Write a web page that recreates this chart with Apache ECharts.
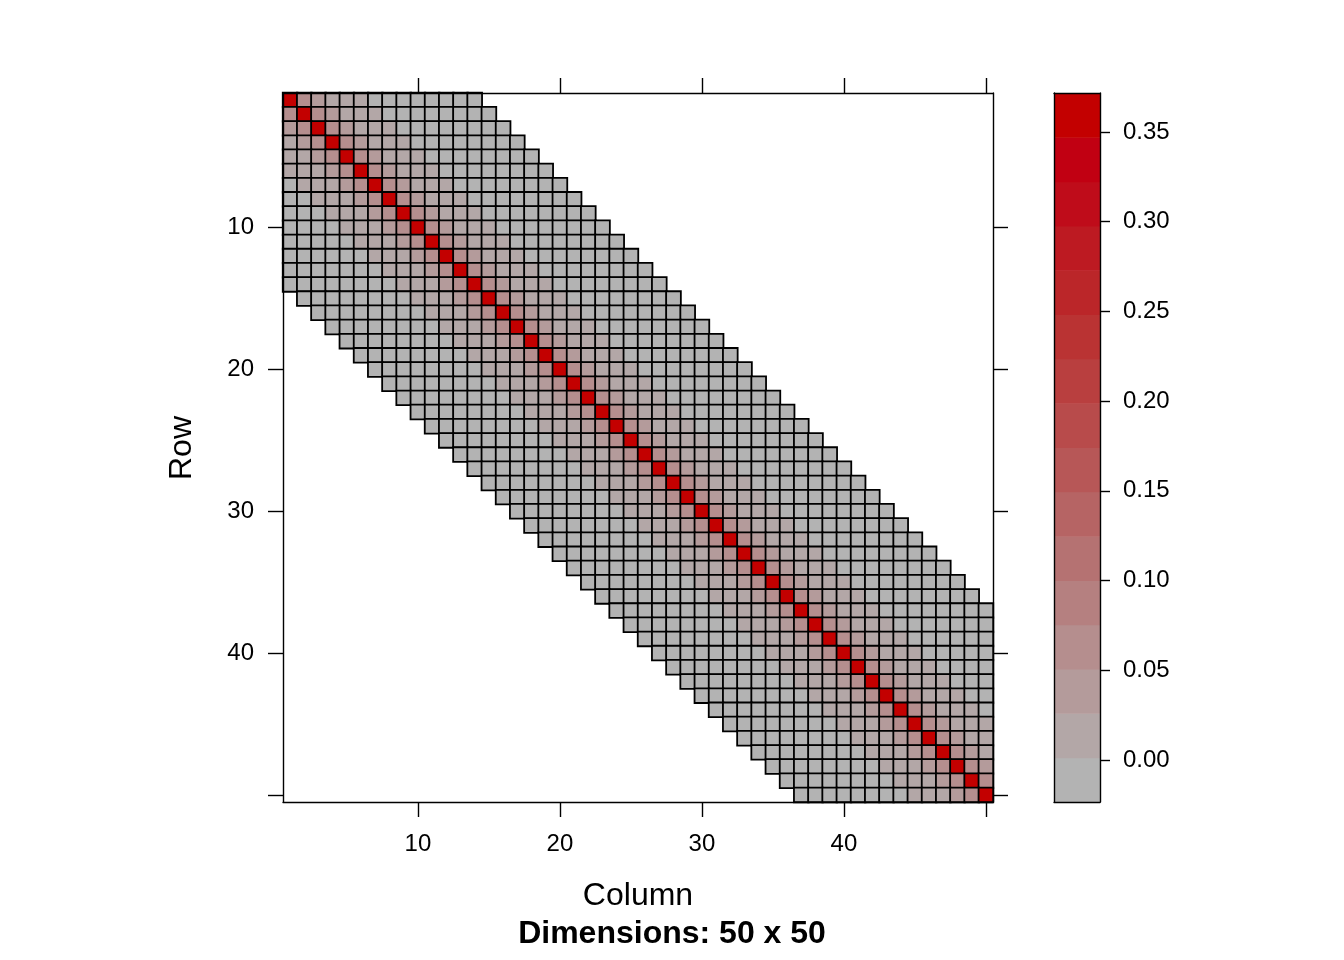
<!DOCTYPE html>
<html>
<head>
<meta charset="utf-8">
<script src="https://cdn.jsdelivr.net/npm/echarts@6/dist/echarts.min.js"></script>
<style>
html,body{margin:0;padding:0;background:#fff;}
#chart{width:1344px;height:960px;}
</style>
</head>
<body>
<div id="chart"></div>
<script>
// ---- data ----
const nRows = 50;
const nCols = 50;
const bandwidth = 13; // nonzero where |row-col| <= 13
// values by distance from diagonal (0..13)
const offsetValues = [0.37, 0.065, 0.03, 0.015, 0.008, 0.003, 0, 0, 0, 0, 0, 0, 0, 0];
const rowLabels = Array.from({length: nRows}, (_, i) => String(i + 1));
const colLabels = Array.from({length: nCols}, (_, i) => String(i + 1));
const colorBreaks = [-0.0234, 0.00129, 0.02599, 0.05068, 0.07538, 0.10007, 0.12476, 0.14946,
  0.17415, 0.19884, 0.22354, 0.24823, 0.27293, 0.29762, 0.32231, 0.34701, 0.3717];
const colorTicks = [0, 0.05, 0.10, 0.15, 0.20, 0.25, 0.30, 0.35];
const axisTickLabels = ['10', '20', '30', '40'];

// ---- styles ----
const palette = ['#b3b3b3', '#b3a7a7', '#b49b9b', '#b58e8e', '#b58080', '#b57272', '#b66464', '#b75757',
  '#b84b4b', '#b93f3f', '#ba3333', '#bb2629', '#bd1a22', '#bf0c1a', '#c10012', '#c30000'];
const FONT = 'Liberation Sans, Arial, Helvetica, sans-serif';

// build cells
const cells = [];
for (let r = 0; r < nRows; r++) {
  for (let c = 0; c < nCols; c++) {
    const d = Math.abs(r - c);
    if (d <= bandwidth) cells.push([c, r, offsetValues[d]]);
  }
}
const pieces = palette.map((col, i) => ({gte: colorBreaks[i], lt: colorBreaks[i + 1], color: col}));
const barData = palette.map((col, i) => [0, colorBreaks[i], colorBreaks[i + 1], i]);

const tickShown = (idx, val) => ((idx + 1) % 10 === 0);
const labelShown = (idx, val) => axisTickLabels.indexOf(String(val)) >= 0;

const chart = echarts.init(document.getElementById('chart'), null, {renderer: 'canvas'});
const lineStyle = {color: '#000', width: 1.4};
chart.setOption({
  animation: false,
  backgroundColor: '#fff',
  textStyle: {fontFamily: FONT},
  grid: [
    {left: 283, top: 93, width: 710, height: 709},
    {left: 1054, top: 93, width: 46, height: 709}
  ],
  xAxis: [
    {type: 'category', gridIndex: 0, position: 'bottom', data: colLabels, z: 5,
     axisLine: {show: true, onZero: false, lineStyle}, splitLine: {show: false},
     axisTick: {show: true, alignWithLabel: true, interval: tickShown, length: 15, lineStyle},
     axisLabel: {show: true, interval: labelShown, margin: 30, fontSize: 24, color: '#000', fontFamily: FONT}},
    {type: 'category', gridIndex: 0, position: 'top', data: colLabels, z: 5,
     axisLine: {show: true, onZero: false, lineStyle}, splitLine: {show: false},
     axisTick: {show: true, alignWithLabel: true, interval: tickShown, length: 15, lineStyle},
     axisLabel: {show: false}},
    {type: 'category', gridIndex: 1, position: 'bottom', data: [''], z: 5,
     axisLine: {show: true, onZero: false, lineStyle}, axisTick: {show: false}, axisLabel: {show: false}},
    {type: 'category', gridIndex: 1, position: 'top', data: [''], z: 5,
     axisLine: {show: true, onZero: false, lineStyle}, axisTick: {show: false}, axisLabel: {show: false}}
  ],
  yAxis: [
    {type: 'category', gridIndex: 0, position: 'left', inverse: true, data: rowLabels, z: 5,
     axisLine: {show: true, onZero: false, lineStyle}, splitLine: {show: false},
     axisTick: {show: true, alignWithLabel: true, interval: tickShown, length: 15, lineStyle},
     axisLabel: {show: true, interval: labelShown, margin: 29, fontSize: 24, color: '#000', fontFamily: FONT,
       padding: [4, 0, 0, 0]}},
    {type: 'category', gridIndex: 0, position: 'right', inverse: true, data: rowLabels, z: 5,
     axisLine: {show: true, onZero: false, lineStyle}, splitLine: {show: false},
     axisTick: {show: true, alignWithLabel: true, interval: tickShown, length: 15, lineStyle},
     axisLabel: {show: false}},
    {type: 'value', gridIndex: 1, position: 'right', min: colorBreaks[0], max: colorBreaks[colorBreaks.length - 1], z: 5,
     axisLine: {show: true, onZero: false, lineStyle}, splitLine: {show: false},
     axisTick: {show: true, length: 10, lineStyle, customValues: colorTicks},
     axisLabel: {show: true, customValues: colorTicks, margin: 23, fontSize: 24, color: '#000', fontFamily: FONT,
       padding: [2, 0, 0, 0], formatter: v => Number(v).toFixed(2)}},
    {type: 'value', gridIndex: 1, position: 'left', min: colorBreaks[0], max: colorBreaks[colorBreaks.length - 1], z: 5,
     axisLine: {show: true, onZero: false, lineStyle}, splitLine: {show: false},
     axisTick: {show: false}, axisLabel: {show: false}}
  ],
  visualMap: {
    type: 'piecewise', show: false, seriesIndex: 0, dimension: 2, pieces: pieces
  },
  series: [
    {type: 'heatmap', xAxisIndex: 0, yAxisIndex: 0, data: cells,
     itemStyle: {borderColor: '#000', borderWidth: 1.8},
     emphasis: {disabled: true}, silent: true},
    {type: 'custom', xAxisIndex: 2, yAxisIndex: 2, data: barData, silent: true, z: 1,
     encode: {x: 0, y: [1, 2]},
     renderItem: function (params, api) {
       const p1 = api.coord([api.value(0), api.value(1)]);
       const p2 = api.coord([api.value(0), api.value(2)]);
       const w = api.size([1, 0])[0];
       return {type: 'rect',
         shape: {x: p1[0] - w / 2, y: p2[1], width: w, height: p1[1] - p2[1] + 0.5},
         style: {fill: palette[api.value(3)]}};
     }}
  ],
  graphic: [
    {type: 'text', x: 638, y: 896, style: {text: 'Column', font: '32px ' + FONT, fill: '#000', textAlign: 'center', textVerticalAlign: 'middle'}},
    {type: 'text', x: 182, y: 448, rotation: Math.PI / 2, style: {text: 'Row', font: '32px ' + FONT, fill: '#000', textAlign: 'center', textVerticalAlign: 'middle'}},
    {type: 'text', x: 672, y: 934, style: {text: 'Dimensions: 50 x 50', font: 'bold 32px ' + FONT, fill: '#000', textAlign: 'center', textVerticalAlign: 'middle'}}
  ]
});
</script>
</body>
</html>
